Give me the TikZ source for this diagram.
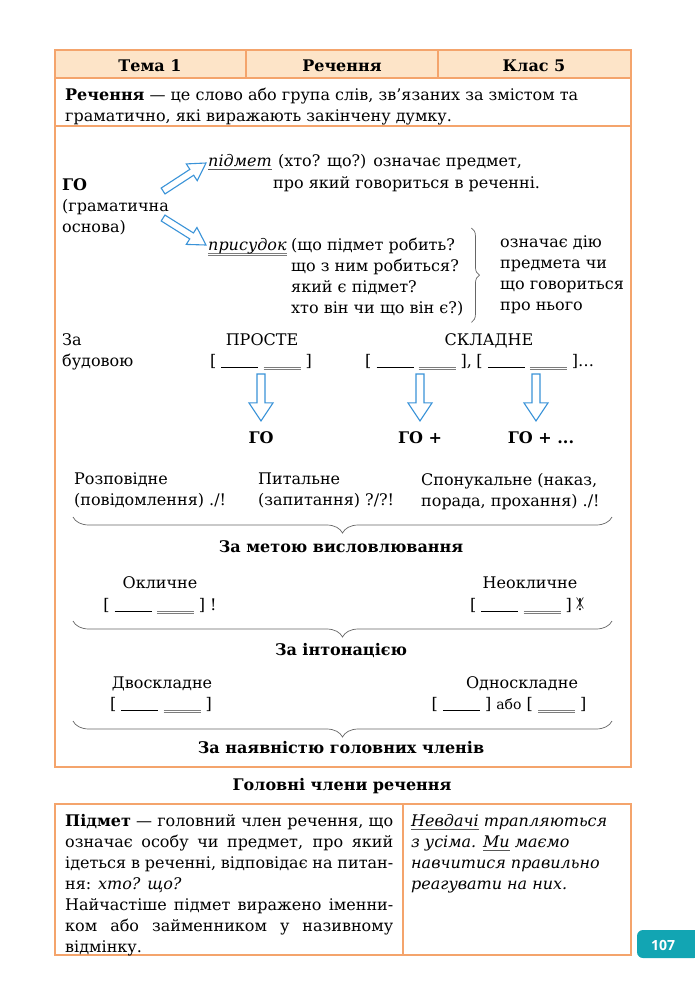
\documentclass[tikz,border=0pt]{standalone}
\usepackage{fontspec}
\usepackage{graphicx}
\setmainfont{DejaVu Serif}
\newfontfamily\tabfont{Open Sans}
\usetikzlibrary{positioning, calc, decorations.pathreplacing}

\definecolor{tabline}{HTML}{F4A46C}
\definecolor{tabfill}{HTML}{FDE4C8}
\definecolor{arrowblue}{HTML}{3A93D8}
\definecolor{pageteal}{HTML}{12A5B3}
\definecolor{linegrey}{HTML}{7C7C7C}

\newcommand{\bodyfont}{\fontsize{16}{21}\selectfont}
\newcommand{\subjline}[1][37pt]{\rule[-1.6pt]{#1}{0.9pt}}
\newcommand{\predline}[1][37pt]{{\color{linegrey}\rlap{\rule[-1.4pt]{#1}{0.9pt}}\rule[-3.8pt]{#1}{0.9pt}}}
\newcommand{\subjword}[1]{\setbox0\hbox{#1}\rlap{\color{linegrey!70!black}\rule[-3.6pt]{\wd0}{0.8pt}}\box0{}}
\newcommand{\predword}[1]{\setbox0\hbox{#1}\rlap{\color{linegrey}\rule[-3.6pt]{\wd0}{0.9pt}}\rlap{\color{linegrey}\rule[-6pt]{\wd0}{0.9pt}}\box0{}}
\newcommand{\noexcl}{\ooalign{\hfil!\hfil\cr\hfil\raisebox{0.3pt}{\scalebox{0.85}[1.4]{$\times$}}\hfil\cr}}
\newcommand{\fillline}[1]{\makebox[328pt][s]{#1}}
\newcommand{\hollowarrow}[5]{%
	\draw[blockarrow] let \p1=(#1), \p2=(#2), \n1={atan2(\y2-\y1,\x2-\x1)}, \n2={veclen(\x2-\x1,\y2-\y1)} in
		[shift={(\p1)}, rotate=\n1] (0,-#3) -- (\n2-#5,-#3) -- (\n2-#5,-#4) -- (\n2,0) -- (\n2-#5,#4) -- (\n2-#5,#3) -- (0,#3) -- cycle;}

\begin{document}
\begin{tikzpicture}[x=1pt, y=-1pt, node distance=4pt,
	every node/.style={inner sep=0pt, font=\bodyfont},
	cell/.style={draw=tabline, line width=1.1pt},
	boldtxt/.style={font=\bodyfont\bfseries},
	lines/.style={align=left, anchor=north west},
	blockarrow/.style={draw=arrowblue, line width=1.1pt, fill=white, line join=miter},
	groupbrace/.style={draw=black!60, line width=0.7pt, decorate, decoration={brace, amplitude=16pt}}]
	\useasboundingbox (0,0) rectangle (695,1005);
	\fill[white] (0,0) rectangle (695,1005);
	
	\draw[cell, fill=tabfill] (55,50) rectangle (631,78);
	\draw[cell] (246,50) -- (246,78) (438,50) -- (438,78);
	\draw[cell] (55,78) rectangle (631,767) (55,126) -- (631,126);
	\node[boldtxt, anchor=base] (topic) at (150,71) {Тема 1};
	\node[boldtxt, anchor=base] (theme) at (342,71) {Речення};
	\node[boldtxt, anchor=base] (grade) at (534,71) {Клас 5};
	\node[lines] (defn) at (65,88) {\textbf{Речення} — це слово або група слів, зв’язаних за змістом та\\граматично, які виражають закінчену думку.};
	
	\node[lines] (go) at (62,178) {\textbf{ГО}\\(граматична\\основа)};
	\node[anchor=base west] (pidmet) at (208,166) {\subjword{\textit{підмет}}};
	\node[base right=6pt of pidmet] (pidmetq) {(хто? що?) означає предмет,};
	\node[anchor=base west] (pidmetq2) at (273,188) {про який говориться в реченні.};
	\node[anchor=base west] (prysud) at (208,250) {\predword{\textit{присудок}}};
	\node[lines] (prysudq) at (291,238) {(що підмет робить?\\що з ним робиться?\\який є підмет?\\хто він чи що він є?)};
	\node[lines] (action) at (500,236) {означає дію\\предмета чи\\що говориться\\про нього};
	\draw[groupbrace, decoration={amplitude=8pt}] ($(prysudq.north east)+(8,-10)$) -- ($(prysudq.south east)+(8,6)$);
	\hollowarrow{$(go.north east)+(-6,13)$}{$(pidmet.base west)+(-2,-3)$}{3.5}{10}{17}
	\hollowarrow{$(go.north east)+(-6,40)$}{$(prysud.base west)+(-2,-5)$}{3.5}{10}{17}
	
	\node[lines] (bybuild) at (62,333) {За\\будовою};
	\node[anchor=base] (simple) at (262,345) {ПРОСТЕ};
	\node[anchor=base] (simplef) at (261,366) {[ \subjline\ \predline\ ]};
	\node[anchor=base] (complex) at (489,345) {СКЛАДНЕ};
	\node[anchor=base west] (complexa) at (365,366) {[ \subjline\ \predline\ ],};
	\node[base right=4pt of complexa] (complexb) {[ \subjline\ \predline\ ]\ldots};
	\node[boldtxt, anchor=base] (go1) at (261,443) {ГО};
	\node[boldtxt, anchor=base] (go2) at (420,443) {ГО +};
	\node[boldtxt, anchor=base] (go3) at (541,443) {ГО + ...};
	\hollowarrow{$(simplef.south -| go1.north)+(0,4)$}{$(go1.north)+(0,-10)$}{4}{12}{18}
	\hollowarrow{$(complexa.south -| go2.north)+(0,4)$}{$(go2.north)+(0,-10)$}{4}{12}{18}
	\hollowarrow{$(complexb.south -| go3.north)+(-5,4)$}{$(go3.north)+(-5,-10)$}{4}{12}{18}
	
	\node[lines] (declar) at (74,473) {Розповідне\\(повідомлення) ./!};
	\node[lines] (interr) at (258,473) {Питальне\\(запитання) ?/?!};
	\node[lines] (imper) at (421,473) {Спонукальне (наказ,\\порада, прохання) ./!};
	\draw[groupbrace] (612,517) -- (73,517);
	\node[boldtxt, anchor=base] (purpose) at (341,552) {За метою висловлювання};
	
	\node[anchor=base] (excl) at (160,588) {Окличне};
	\node[anchor=base] (exclf) at (160,610) {[ \subjline\ \predline\ ] !};
	\node[anchor=base] (nonexcl) at (530,588) {Неокличне};
	\node[anchor=base] (nonexclf) at (528,610) {[ \subjline\ \predline\ ]\,\noexcl};
	\draw[groupbrace] (612,621) -- (73,621);
	\node[boldtxt, anchor=base] (intonation) at (341,655) {За інтонацією};
	
	\node[anchor=base] (twopart) at (162,688) {Двоскладне};
	\node[anchor=base] (twopartf) at (161,709) {[ \subjline\ \predline\ ]};
	\node[anchor=base] (onepart) at (522,688) {Односкладне};
	\node[anchor=base] (onepartf) at (509,709) {[ \subjline\ ] {\fontsize{14}{21}\selectfont або} [ \predline\ ]};
	\draw[groupbrace] (612,721) -- (73,721);
	\node[boldtxt, anchor=base] (members) at (341,753) {За наявністю головних членів};
	
	\node[boldtxt, anchor=base] (mainparts) at (342,790) {Головні члени речення};
	\draw[cell] (55,804) rectangle (631,955) (403,804) -- (403,955);
	\node[lines] (subjdef) at (65,814) {\fillline{\textbf{Підмет} — головний член речення, що}\\
		\fillline{означає особу чи предмет, про який}\\
		\fillline{ідеться в реченні, відповідає на питан-}\\
		ня: \textit{хто? що?}\\
		\fillline{Найчастіше підмет виражено іменни-}\\
		\fillline{ком або займенником у називному}\\
		відмінку.};
	\node[lines, font=\bodyfont\itshape] (sample) at (411,814) {\subjword{Невдачі} трапляються\\з усіма. \subjword{Ми} маємо\\навчитися правильно\\реагувати на них.};
	
	\fill[pageteal, rounded corners=6pt] (700,930) -- (637,930) -- (637,958) -- (700,958) -- cycle;
	\node[font=\tabfont\bfseries\fontsize{14}{14}\selectfont, text=white, anchor=base] (pagenum) at (663,950) {107};
\end{tikzpicture}
\end{document}
